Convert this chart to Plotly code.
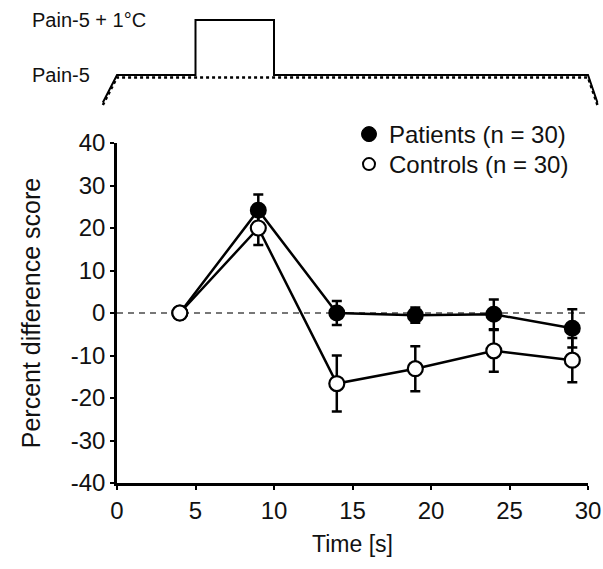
import plotly.graph_objects as go

# Measurement times (s) and percent difference scores
time_s = [4, 9, 14, 19, 24, 29]
patients_mean = [0, 24.2, 0.0, -0.5, -0.3, -3.6]
patients_sem = [0, 3.7, 2.8, 1.8, 3.5, 4.5]
controls_mean = [0, 20.0, -16.6, -13.1, -8.9, -11.1]
controls_sem = [0, 4.0, 6.6, 5.3, 4.9, 5.2]

# Stimulus protocol: Pain-5 baseline with a +1 °C step between 5 and 10 s
stim_t = [-0.9, 0, 5, 5, 10, 10, 30, 30.6]
stim_level = [-0.5, 0, 0, 1, 1, 0, 0, -0.5]
base_t = [-0.9, 0, 30, 30.6]
base_level = [-0.5, 0, 0, -0.5]

x_ticks = [0, 5, 10, 15, 20, 25, 30]
y_ticks = [-40, -30, -20, -10, 0, 10, 20, 30, 40]
y_tick_text = ["-40", "-30", "-20", "-10", "0", "10", "20", "30", "40"]

FONT = "Liberation Sans, Arial, sans-serif"
W, H = 603, 569
ML, MR, MT, MB = 80, 0, 10, 86
plot_w = W - ML - MR
plot_h = H - MT - MB

# main panel pixel frame
ax_left, ax_right = 117, 588
px_per_s = (ax_right - ax_left) / 30.0

x_dom = [(ax_left - ML) / plot_w, (ax_right - ML) / plot_w]
x2_range = [-1.5, 30.95]
x2_dom = [(ax_left + x2_range[0] * px_per_s - ML) / plot_w,
          min(1.0, (ax_left + x2_range[1] * px_per_s - ML) / plot_w)]

y_top_px = 143
y_dom = [0, (H - MB - y_top_px) / plot_h]

# stimulus panel: level 0 at 75 px, level 1 at 20 px
s_bottom_px, s_top_px = 110, 10
px_per_level = 55.0
base_px = 75
y2_range = [-(s_bottom_px - base_px) / px_per_level, (base_px - s_top_px) / px_per_level]
y2_dom = [(H - MB - s_bottom_px) / plot_h, 1.0]
dot_offset = 2.5 / px_per_level

fig = go.Figure()

fig.add_trace(go.Scatter(
    x=time_s, y=patients_mean, name="Patients (n = 30)", mode="lines+markers",
    line=dict(color="black", width=2.5),
    marker=dict(symbol="circle", size=15, color="black", line=dict(color="black", width=2)),
    error_y=dict(type="data", array=patients_sem, visible=True, color="black", thickness=2.5, width=5),
    showlegend=False, xaxis="x", yaxis="y",
))
fig.add_trace(go.Scatter(
    x=time_s, y=controls_mean, name="Controls (n = 30)", mode="lines+markers",
    line=dict(color="black", width=2.5),
    marker=dict(symbol="circle", size=15, color="white", line=dict(color="black", width=2.2)),
    error_y=dict(type="data", array=controls_sem, visible=True, color="black", thickness=2.5, width=5),
    showlegend=False, xaxis="x", yaxis="y",
))

# legend entries (marker only), one per legend box
fig.add_trace(go.Scatter(
    x=[None], y=[None], name="Patients (n = 30)", mode="markers",
    marker=dict(symbol="circle", size=15, color="black", line=dict(color="black", width=1)),
    xaxis="x", yaxis="y", legend="legend",
))
fig.add_trace(go.Scatter(
    x=[None], y=[None], name="Controls (n = 30)", mode="markers",
    marker=dict(symbol="circle", size=12, color="white", line=dict(color="black", width=2)),
    xaxis="x", yaxis="y", legend="legend2",
))

# stimulus diagram
fig.add_trace(go.Scatter(
    x=base_t, y=[v - dot_offset for v in base_level], mode="lines",
    line=dict(color="black", width=2.5, dash="dot"), showlegend=False,
    hoverinfo="skip", xaxis="x2", yaxis="y2",
))
fig.add_trace(go.Scatter(
    x=stim_t, y=stim_level, mode="lines",
    line=dict(color="black", width=2), showlegend=False,
    hoverinfo="skip", xaxis="x2", yaxis="y2",
))

# zero reference line
fig.add_shape(type="line", xref="x domain", x0=0, x1=1, yref="y", y0=0, y1=0,
              layer="below", line=dict(color="#777777", width=2, dash="6px,5px"))

axis_common = dict(
    showgrid=False, zeroline=False, showline=True, linecolor="black", linewidth=2.5,
    ticks="outside", ticklen=4, tickwidth=2, tickcolor="black", automargin=False,
    tickfont=dict(family=FONT, size=24, color="#111111"),
)

legend_common = dict(
    xanchor="left", yanchor="top", bgcolor="rgba(0,0,0,0)",
    font=dict(family=FONT, size=24, color="#111111"), itemwidth=30,
)

fig.update_layout(
    width=W, height=H,
    margin=dict(l=ML, r=MR, t=MT, b=MB),
    paper_bgcolor="white", plot_bgcolor="white",
    font=dict(family=FONT, size=24, color="#111111"),
    xaxis=dict(domain=x_dom, range=[0, 30], tickvals=x_ticks, anchor="y",
               title=dict(text="Time [s]", font=dict(family=FONT, size=23), standoff=14),
               **axis_common),
    yaxis=dict(domain=y_dom, range=[-40, 40], tickvals=y_ticks, ticktext=y_tick_text, anchor="x",
               title=dict(text="Percent difference score", font=dict(family=FONT, size=25), standoff=24),
               **axis_common),
    xaxis2=dict(domain=x2_dom, range=x2_range, visible=False, anchor="y2"),
    yaxis2=dict(domain=y2_dom, range=y2_range, visible=False, anchor="x2"),
    legend=dict(x=(349 - ML) / plot_w, y=(H - MB - 112) / plot_h, **legend_common),
    legend2=dict(x=(349 - ML) / plot_w, y=(H - MB - 142) / plot_h, **legend_common),
    showlegend=True,
)

fig.add_annotation(text="Pain-5 + 1°C", xref="paper", x=(30 - ML) / plot_w, xanchor="left",
                   yref="y2", y=1, yanchor="middle", showarrow=False,
                   font=dict(family=FONT, size=20, color="#111111"))
fig.add_annotation(text="Pain-5", xref="paper", x=(30 - ML) / plot_w, xanchor="left",
                   yref="y2", y=0, yanchor="middle", showarrow=False,
                   font=dict(family=FONT, size=20, color="#111111"))

fig.write_html("out.html")
